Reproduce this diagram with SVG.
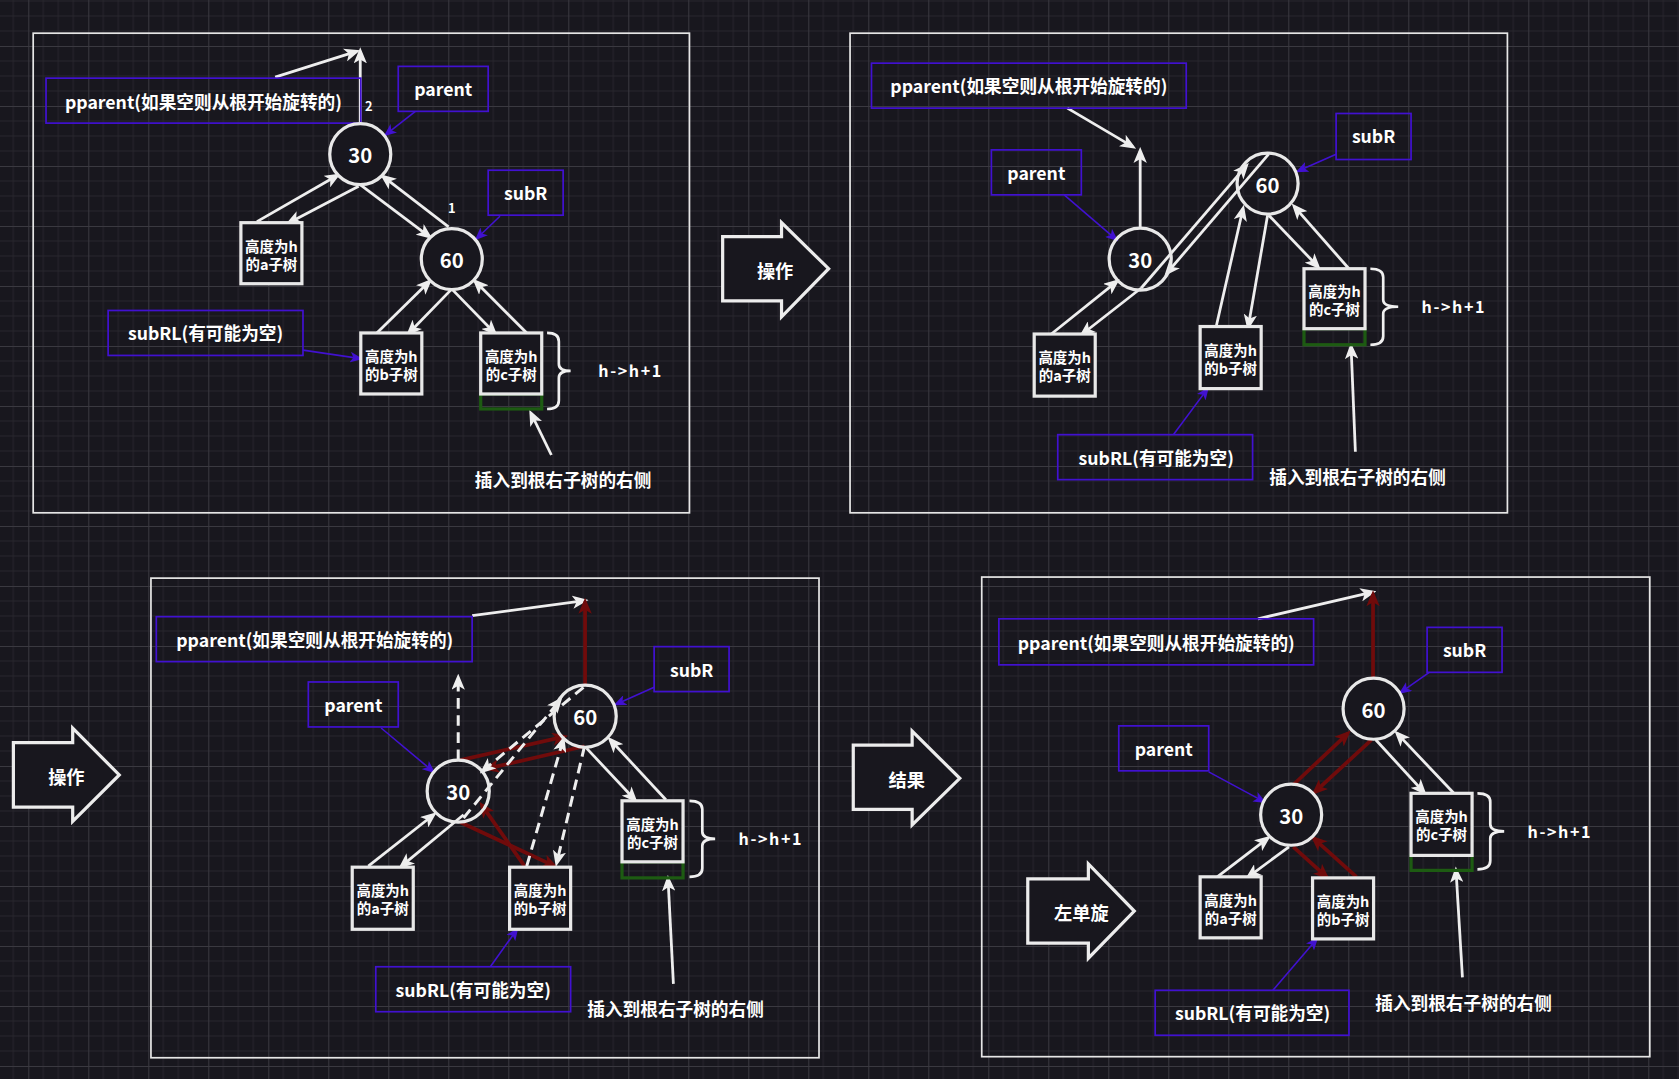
<svg xmlns="http://www.w3.org/2000/svg" width="1679" height="1079" viewBox="0 0 1679 1079">
<style>
.t{font-family:"Noto Sans CJK SC","Noto Sans",sans-serif;font-weight:700;fill:#ffffff;text-anchor:middle;dominant-baseline:central}
.lbl{font-size:16.5px}
.nd{font-size:19px}
.sb{font-size:13.5px}
.sm{font-size:12px}
.hh{font-size:15px;letter-spacing:1.5px}
.frame{fill:none;stroke:#e6e6e6;stroke-width:1.6}
.pb{fill:none;stroke:#4111d0;stroke-width:1.6}
.node{fill:#18171e;stroke:#e8e8e8;stroke-width:3}
.box{fill:#18171e;stroke:#e8e8e8;stroke-width:3}
.grn{fill:none;stroke:#1d5b12;stroke-width:3}
.big{fill:#18171e;stroke:#ececec;stroke-width:3}
.brace{fill:none;stroke:#f0f0f0;stroke-width:2.5}
.w{stroke:#eeeeee;stroke-width:2.6;fill:none;marker-end:url(#aw)}
.wd{stroke:#eeeeee;stroke-width:2.8;fill:none;stroke-dasharray:10 6;marker-end:url(#aw)}
.r{stroke:#700b0b;stroke-width:3.5;fill:none;marker-end:url(#ar)}
.p{stroke:#4111d0;stroke-width:1.5;fill:none;marker-end:url(#ap)}
</style>
<defs>
<pattern id="grid" x="28.3" y="46" width="60" height="60" patternUnits="userSpaceOnUse">
<path d="M15 0V60M30 0V60M45 0V60M0 15H60M0 30H60M0 45H60" stroke="#27262d" stroke-width="1"/>
<path d="M0.5 0V60M0 0.5H60" stroke="#3a3940" stroke-width="1"/>
</pattern>
<marker id="aw" viewBox="0 0 12 10" refX="9" refY="5" markerWidth="15" markerHeight="12.5" markerUnits="userSpaceOnUse" orient="auto"><path d="M0,0 L12,5 L0,10 L3,5 Z" fill="#eeeeee"/></marker>
<marker id="ar" viewBox="0 0 12 10" refX="9" refY="5" markerWidth="15" markerHeight="12.5" markerUnits="userSpaceOnUse" orient="auto"><path d="M0,0 L12,5 L0,10 L3,5 Z" fill="#700b0b"/></marker>
<marker id="ap" viewBox="0 0 12 10" refX="10" refY="5" markerWidth="12" markerHeight="10" markerUnits="userSpaceOnUse" orient="auto"><path d="M0,0 L12,5 L0,10 L3,5 Z" fill="#4111d0"/></marker>
</defs>
<rect width="1679" height="1079" fill="#18171e"/>
<rect width="1679" height="1079" fill="url(#grid)"/>
<g transform="scale(1.0706)">
<g id="frames">
<rect class="frame" x="31" y="31" width="613" height="448"/>
<rect class="frame" x="794" y="31" width="614" height="448"/>
<rect class="frame" x="141" y="540" width="624" height="448"/>
<rect class="frame" x="917" y="539" width="624" height="448"/>
</g>
<g id="big-arrows">
<g id="op1"><polygon class="big" points="675,221 730,221 730,208 774,251 730,296 730,281 675,281"/><text class="t" x="724" y="252" font-size="17">操作</text></g>
<g id="op2"><polygon class="big" points="12.5,693.6 67.9,693.6 67.9,680.2 111.4,723.8 67.9,767.3 67.9,753.9 12.5,753.9"/><text class="t" x="62" y="724.5" font-size="17">操作</text></g>
<g id="res"><polygon class="big" points="797,696 852,696 852,683 896.5,727 852,770.5 852,756 797,756"/><text class="t" x="847" y="728" font-size="17">结果</text></g>
<g id="rot"><polygon class="big" points="960,821 1016.6,821 1016.6,807 1059.5,851 1016.6,895 1016.6,881 960,881"/><text class="t" x="1010" y="851.5" font-size="17">左单旋</text></g>
</g>
<g id="connectors">
<!-- panel 1 -->
<path class="w" d="M240,207 L315,164"/>
<path class="w" d="M335,174 L270,208"/>
<path class="w" d="M337,173 L401,221"/>
<path class="w" d="M419,212 L358,165"/>
<path class="w" d="M352,311 L401,263"/>
<path class="w" d="M421,271 L382,311"/>
<path class="w" d="M423,271 L462,311"/>
<path class="w" d="M492,311 L444,263"/>
<path class="w" d="M336.5,116 L336.5,48"/>
<path class="w" d="M257,72 L333,48"/>
<path class="w" d="M515,425 L496,386"/>
<path class="p" d="M283,327 L337,335"/>
<path class="p" d="M467,202 L445,223"/>
<path class="p" d="M388,104 L360,126"/>
<!-- panel 2 -->
<path class="w" d="M982,312 L1043,263"/>
<path class="w" d="M1066,269 L1011,312"/>
<path class="w" d="M1066,269 L1164,155"/>
<path class="w" d="M1185,144 L1090,255"/>
<path class="w" d="M1065,213 L1065,141"/>
<path class="w" d="M997,101 L1058,137"/>
<path class="w" d="M1136,305 L1161,195"/>
<path class="w" d="M1184,201 L1166,305"/>
<path class="w" d="M1185,201 L1231,249"/>
<path class="w" d="M1260,251 L1209,193"/>
<path class="w" d="M1266,422 L1262,324"/>
<path class="p" d="M994,182 L1043,224"/>
<path class="p" d="M1248,144 L1212,160"/>
<path class="p" d="M1096,406 L1128,363"/>
<!-- panel 3 -->
<path class="w" d="M344,809 L405,761"/>
<path class="w" d="M433,761 L375,809"/>
<path class="w" d="M548,699 L593,747"/>
<path class="w" d="M622,747 L570,691"/>
<path class="w" d="M441,575 L546,561"/>
<path class="w" d="M629,919 L624,821"/>
<path class="r" d="M546.5,640 L546.5,562"/>
<path class="r" d="M430,710 L527,688"/>
<path class="r" d="M546,697 L455,718"/>
<path class="r" d="M430,768 L518,809"/>
<path class="r" d="M490,809 L450,752"/>
<path class="wd" d="M428,710 L428,633"/>
<path class="wd" d="M433,764 L523,654"/>
<path class="wd" d="M545,642 L451,720"/>
<path class="wd" d="M546,697 L520,806"/>
<path class="wd" d="M492,809 L526,691"/>
<path class="p" d="M356,680 L405,721"/>
<path class="p" d="M611,642 L575,658"/>
<path class="p" d="M458,903 L483,868"/>
<!-- panel 4 -->
<path class="w" d="M1137,819 L1184,783"/>
<path class="w" d="M1204,791 L1166,819"/>
<path class="w" d="M1285,691 L1330,740"/>
<path class="w" d="M1358,741 L1305,685"/>
<path class="w" d="M1175,578 L1282,553"/>
<path class="w" d="M1366,913 L1360,813"/>
<path class="r" d="M1282.5,633 L1282.5,555"/>
<path class="r" d="M1208,733 L1259,685"/>
<path class="r" d="M1281,691 L1228,740"/>
<path class="r" d="M1208,791 L1239,819"/>
<path class="r" d="M1267,819 L1227,783"/>
<path class="p" d="M1129,721 L1181,749"/>
<path class="p" d="M1335,628 L1308,647"/>
<path class="p" d="M1189,925 L1230,877"/>
</g>
<!-- panel 1 nodes -->
<g id="p1-pparent"><rect class="pb" x="43" y="73" width="294" height="42"/><text class="t lbl" x="190" y="95">pparent(如果空则从根开始旋转的)</text></g>
<g id="p1-parent"><rect class="pb" x="372" y="62" width="84" height="42"/><text class="t lbl" x="414" y="83">parent</text></g>
<g id="p1-subR"><rect class="pb" x="456" y="159" width="70" height="42"/><text class="t lbl" x="491" y="180">subR</text></g>
<g id="p1-subRL"><rect class="pb" x="101" y="290" width="182" height="42"/><text class="t lbl" x="192" y="311">subRL(有可能为空)</text></g>
<g id="p1-n30"><circle class="node" cx="336.5" cy="144" r="28.5"/><text class="t nd" x="336.5" y="144">30</text></g>
<g id="p1-n60"><circle class="node" cx="422" cy="242" r="28.5"/><text class="t nd" x="422" y="242">60</text></g>
<g id="p1-a"><rect class="box" x="225" y="208" width="57" height="57"/><text class="t sb" x="253.5" y="229">高度为h</text><text class="t sb" x="253.5" y="246">的a子树</text></g>
<g id="p1-b"><rect class="box" x="337" y="311" width="57" height="57"/><text class="t sb" x="365.5" y="332">高度为h</text><text class="t sb" x="365.5" y="349">的b子树</text></g>
<g id="p1-c"><rect class="grn" x="449" y="368" width="57" height="14"/><rect class="box" x="449" y="311" width="57" height="57"/><text class="t sb" x="477.5" y="332">高度为h</text><text class="t sb" x="477.5" y="349">的c子树</text></g>
<g id="p1-brace"><path class="brace" d="M511,311 Q522,311 522,319 L522,340 Q522,346.5 533,346.5 Q522,346.5 522,353 L522,374 Q522,382 511,382"/><text class="t hh" x="589" y="346">h-&gt;h+1</text></g>
<g id="p1-ins"><text class="t lbl" x="526" y="448">插入到根右子树的右侧</text></g>
<g id="p1-nums"><text class="t sm" x="344.5" y="99">2</text><text class="t sm" x="422" y="194">1</text></g>
<!-- panel 2 nodes -->
<g id="p2-pparent"><rect class="pb" x="814" y="59" width="294" height="42"/><text class="t lbl" x="961" y="80">pparent(如果空则从根开始旋转的)</text></g>
<g id="p2-parent"><rect class="pb" x="926" y="140" width="84" height="42"/><text class="t lbl" x="968" y="161">parent</text></g>
<g id="p2-subR"><rect class="pb" x="1248" y="106" width="70" height="43"/><text class="t lbl" x="1283" y="127">subR</text></g>
<g id="p2-subRL"><rect class="pb" x="988" y="406" width="182" height="42"/><text class="t lbl" x="1080" y="427">subRL(有可能为空)</text></g>
<g id="p2-n30"><circle class="node" cx="1065" cy="242" r="29" fill-opacity="0"/><text class="t nd" x="1065" y="242">30</text></g>
<g id="p2-n60"><circle class="node" cx="1184" cy="171.5" r="28.5" fill-opacity="0"/><text class="t nd" x="1184" y="171.5">60</text></g>
<g id="p2-a"><rect class="box" x="966" y="312" width="57" height="58"/><text class="t sb" x="994.5" y="333">高度为h</text><text class="t sb" x="994.5" y="350">的a子树</text></g>
<g id="p2-b"><rect class="box" x="1121" y="305" width="57" height="58"/><text class="t sb" x="1149.5" y="326">高度为h</text><text class="t sb" x="1149.5" y="343">的b子树</text></g>
<g id="p2-c"><rect class="grn" x="1218" y="307" width="57" height="15"/><rect class="box" x="1218" y="251" width="57" height="56"/><text class="t sb" x="1246.5" y="271">高度为h</text><text class="t sb" x="1246.5" y="288">的c子树</text></g>
<g id="p2-brace"><path class="brace" d="M1280,251 Q1292,251 1292,259 L1292,280 Q1292,286.5 1306,286.5 Q1292,286.5 1292,293 L1292,314 Q1292,322 1280,322"/><text class="t hh" x="1358" y="286">h-&gt;h+1</text></g>
<g id="p2-ins"><text class="t lbl" x="1268" y="445">插入到根右子树的右侧</text></g>
<!-- panel 3 nodes -->
<g id="p3-pparent"><rect class="pb" x="146" y="576" width="295" height="42"/><text class="t lbl" x="294" y="597">pparent(如果空则从根开始旋转的)</text></g>
<g id="p3-parent"><rect class="pb" x="288" y="637" width="84" height="42"/><text class="t lbl" x="330" y="658">parent</text></g>
<g id="p3-subR"><rect class="pb" x="611" y="604" width="70" height="42"/><text class="t lbl" x="646" y="625">subR</text></g>
<g id="p3-subRL"><rect class="pb" x="351" y="903" width="182" height="42"/><text class="t lbl" x="442" y="924">subRL(有可能为空)</text></g>
<g id="p3-n30"><circle class="node" cx="428" cy="739" r="29" fill-opacity="0"/><text class="t nd" x="428" y="739">30</text></g>
<g id="p3-n60"><circle class="node" cx="546.6" cy="669" r="29" fill-opacity="0"/><text class="t nd" x="546.6" y="669">60</text></g>
<g id="p3-a"><rect class="box" x="329" y="810" width="57" height="58"/><text class="t sb" x="357.5" y="831">高度为h</text><text class="t sb" x="357.5" y="848">的a子树</text></g>
<g id="p3-b"><rect class="box" x="476" y="810" width="57" height="58"/><text class="t sb" x="504.5" y="831">高度为h</text><text class="t sb" x="504.5" y="848">的b子树</text></g>
<g id="p3-c"><rect class="grn" x="581" y="805" width="57" height="15"/><rect class="box" x="581" y="748" width="57" height="57"/><text class="t sb" x="609.5" y="769">高度为h</text><text class="t sb" x="609.5" y="786">的c子树</text></g>
<g id="p3-brace"><path class="brace" d="M644,748 Q656,748 656,756 L656,777 Q656,783.5 668,783.5 Q656,783.5 656,790 L656,811 Q656,819 644,819"/><text class="t hh" x="720" y="783">h-&gt;h+1</text></g>
<g id="p3-ins"><text class="t lbl" x="631" y="942">插入到根右子树的右侧</text></g>
<!-- panel 4 nodes -->
<g id="p4-pparent"><rect class="pb" x="933" y="578" width="294" height="43"/><text class="t lbl" x="1080" y="600">pparent(如果空则从根开始旋转的)</text></g>
<g id="p4-parent"><rect class="pb" x="1045" y="678" width="84" height="42"/><text class="t lbl" x="1087" y="699">parent</text></g>
<g id="p4-subR"><rect class="pb" x="1333" y="586" width="70" height="42"/><text class="t lbl" x="1368" y="607">subR</text></g>
<g id="p4-subRL"><rect class="pb" x="1079" y="925" width="181" height="42"/><text class="t lbl" x="1170" y="946">subRL(有可能为空)</text></g>
<g id="p4-n30"><circle class="node" cx="1206" cy="761" r="28.5"/><text class="t nd" x="1206" y="761">30</text></g>
<g id="p4-n60"><circle class="node" cx="1283" cy="662" r="28.5"/><text class="t nd" x="1283" y="662">60</text></g>
<g id="p4-a"><rect class="box" x="1121" y="819" width="57" height="57"/><text class="t sb" x="1149.5" y="840">高度为h</text><text class="t sb" x="1149.5" y="857">的a子树</text></g>
<g id="p4-b"><rect class="box" x="1226" y="820" width="57" height="57"/><text class="t sb" x="1254.5" y="841">高度为h</text><text class="t sb" x="1254.5" y="858">的b子树</text></g>
<g id="p4-c"><rect class="grn" x="1318" y="799" width="57" height="14"/><rect class="box" x="1318" y="741" width="57" height="58"/><text class="t sb" x="1346.5" y="762">高度为h</text><text class="t sb" x="1346.5" y="779">的c子树</text></g>
<g id="p4-brace"><path class="brace" d="M1380,741 Q1392,741 1392,749 L1392,770 Q1392,776.5 1405,776.5 Q1392,776.5 1392,783 L1392,804 Q1392,812 1380,812"/><text class="t hh" x="1457" y="776">h-&gt;h+1</text></g>
<g id="p4-ins"><text class="t lbl" x="1367" y="936">插入到根右子树的右侧</text></g>
</g>
</svg>
